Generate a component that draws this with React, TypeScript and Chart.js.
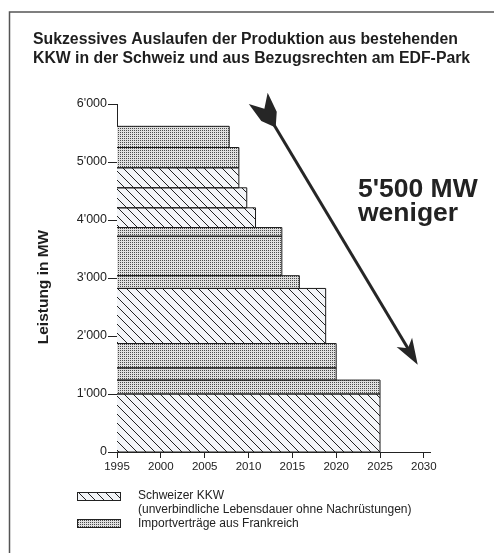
import React, { useEffect, useRef } from "react";
import { Chart, registerables } from "chart.js";

Chart.register(...registerables);

const FONT = '"Liberation Sans", Arial, Helvetica, sans-serif';

// ---- data ----
const startYear = 1995;
const barType = ["KKW", "Import", "Import", "Import", "KKW", "Import", "Import", "Import", "KKW", "KKW", "KKW", "Import", "Import"];
const barLow = [0, 1000, 1240, 1450, 1870, 2820, 3040, 3720, 3870, 4210, 4555, 4900, 5250];
const barHigh = [1000, 1240, 1450, 1870, 2820, 3040, 3720, 3870, 4210, 4555, 4900, 5250, 5615];
const barEnd = [2025, 2025, 2020, 2020, 2018.8, 2015.8, 2013.8, 2013.8, 2010.8, 2009.8, 2008.9, 2008.9, 2007.8];
const xTicks = [1995, 2000, 2005, 2010, 2015, 2020, 2025, 2030];
const yTicks = [0, 1000, 2000, 3000, 4000, 5000, 6000];
const titleLines = [
  "Sukzessives Auslaufen der Produktion aus bestehenden",
  "KKW in der Schweiz und aus Bezugsrechten am EDF-Park",
];
const yLabel = "Leistung in MW";
const calloutLines = ["5'500 MW", "weniger"];
const arrowFrom = [2013.1, 5594];
const arrowTo = [2029.3, 1506];
const legendLabels = [
  ["Schweizer KKW", "(unverbindliche Lebensdauer ohne Nachrüstungen)"],
  ["Importverträge aus Frankreich"],
];

const fmt = (v: number) => String(v).replace(/\B(?=(\d{3})+(?!\d))/g, "'");

function makeHatch(): CanvasPattern {
  const s = 9;
  const c = document.createElement("canvas");
  c.width = s;
  c.height = s;
  const g = c.getContext("2d")!;
  g.fillStyle = "#f3f5f8";
  g.fillRect(0, 0, s, s);
  g.strokeStyle = "#222";
  g.lineWidth = 1;
  g.beginPath();
  for (const k of [-s, 0, s]) {
    g.moveTo(k, 0);
    g.lineTo(k + s, s);
  }
  g.stroke();
  return g.createPattern(c, "repeat")!;
}

function makeDots(): CanvasPattern {
  const c = document.createElement("canvas");
  c.width = 2;
  c.height = 2;
  const g = c.getContext("2d")!;
  g.fillStyle = "#e0e0e0";
  g.fillRect(0, 0, 2, 2);
  g.fillStyle = "#4a4a4a";
  g.fillRect(0, 0, 1, 1);
  return g.createPattern(c, "repeat")!;
}

export default function App() {
  const ref = useRef<HTMLCanvasElement | null>(null);

  useEffect(() => {
    if (!ref.current) return;
    const hatch = makeHatch();
    const dots = makeDots();

    const datasets: any[] = [];
    barLow.forEach((low, i) => {
      const high = barHigh[i];
      const end = barEnd[i];
      datasets.push({
        data: [
          { x: startYear, y: high },
          { x: end, y: high },
        ],
        fill: { value: low },
        backgroundColor: barType[i] === "KKW" ? hatch : dots,
        borderColor: "rgba(0,0,0,0)",
        borderWidth: 0,
        pointRadius: 0,
        tension: 0,
        order: 2,
      });
      datasets.push({
        data: [
          { x: startYear, y: low },
          { x: end, y: low },
          { x: end, y: high },
          { x: startYear, y: high },
        ],
        fill: false,
        borderColor: "#1c1c1c",
        borderWidth: 1,
        pointRadius: 0,
        tension: 0,
        order: 1,
      });
    });

    const deco = {
      id: "deco",
      afterDraw(chart: any) {
        const ctx: CanvasRenderingContext2D = chart.ctx;
        const xs = chart.scales.x;
        const ys = chart.scales.y;
        ctx.save();
        // frame
        ctx.strokeStyle = "#555";
        ctx.lineWidth = 1.5;
        ctx.beginPath();
        ctx.moveTo(9.5, 553);
        ctx.lineTo(9.5, 12);
        ctx.lineTo(494, 12);
        ctx.stroke();

        // title
        ctx.fillStyle = "#1e1e1e";
        ctx.textAlign = "left";
        ctx.textBaseline = "alphabetic";
        ctx.font = `bold 15.8px ${FONT}`;
        ctx.fillText(titleLines[0], 33, 43.5);
        ctx.fillText(titleLines[1], 33, 62.5);

        // y label
        ctx.save();
        ctx.translate(44, 287);
        ctx.rotate(-Math.PI / 2);
        ctx.textAlign = "center";
        ctx.textBaseline = "middle";
        ctx.font = `bold 15.5px ${FONT}`;
        ctx.fillText(yLabel, 0, 0);
        ctx.restore();

        // callout
        ctx.font = `bold 26.5px ${FONT}`;
        ctx.fillStyle = "#222";
        ctx.fillText(calloutLines[0], 358, 197);
        ctx.fillText(calloutLines[1], 358, 221);

        // arrow
        const fx = xs.getPixelForValue(arrowFrom[0]);
        const fy = ys.getPixelForValue(arrowFrom[1]);
        const tx = xs.getPixelForValue(arrowTo[0]);
        const ty = ys.getPixelForValue(arrowTo[1]);
        const L = Math.hypot(tx - fx, ty - fy);
        const ux = (tx - fx) / L;
        const uy = (ty - fy) / L;
        const nx = -uy;
        const ny = ux;
        ctx.strokeStyle = "#262626";
        ctx.fillStyle = "#262626";
        ctx.lineWidth = 3;
        ctx.beginPath();
        ctx.moveTo(fx - ux * 6, fy - uy * 6);
        ctx.lineTo(tx - ux * 16, ty - uy * 16);
        ctx.stroke();
        ctx.beginPath();
        ctx.moveTo(tx, ty);
        ctx.lineTo(tx - ux * 26 + nx * 9, ty - uy * 26 + ny * 9);
        ctx.lineTo(tx - ux * 19, ty - uy * 19);
        ctx.lineTo(tx - ux * 26 - nx * 9, ty - uy * 26 - ny * 9);
        ctx.closePath();
        ctx.fill();
        // fletching
        ctx.beginPath();
        ctx.moveTo(fx, fy);
        ctx.lineTo(fx - ux * 13 + nx * 9, fy - uy * 13 + ny * 9);
        ctx.lineTo(fx - ux * 34 + nx * 11, fy - uy * 34 + ny * 11);
        ctx.lineTo(fx - ux * 22, fy - uy * 22);
        ctx.lineTo(fx - ux * 34 - nx * 11, fy - uy * 34 - ny * 11);
        ctx.lineTo(fx - ux * 13 - nx * 9, fy - uy * 13 - ny * 9);
        ctx.closePath();
        ctx.fill();

        // legend
        ctx.lineWidth = 1;
        ctx.strokeStyle = "#222";
        ctx.fillStyle = hatch;
        ctx.fillRect(77, 492, 43, 8);
        ctx.strokeRect(77.5, 492.5, 43, 8);
        ctx.fillStyle = dots;
        ctx.fillRect(77, 519, 43, 8);
        ctx.strokeRect(77.5, 519.5, 43, 8);
        ctx.fillStyle = "#222";
        ctx.font = `12px ${FONT}`;
        ctx.textAlign = "left";
        ctx.textBaseline = "alphabetic";
        ctx.fillText(legendLabels[0][0], 138, 499);
        ctx.fillText(legendLabels[0][1], 138, 513);
        ctx.fillText(legendLabels[1][0], 138, 527);
        ctx.restore();
      },
    };

    const chart = new Chart(ref.current, {
      type: "line",
      data: { datasets },
      options: {
        animation: false,
        responsive: false,
        devicePixelRatio: 1,
        layout: { padding: { top: 104, left: 10, right: 64, bottom: 71 } },
        plugins: {
          legend: { display: false },
          tooltip: { enabled: false },
          title: { display: false },
        },
        events: [],
        scales: {
          x: {
            type: "linear",
            min: 1995,
            max: 2030.7,
            afterBuildTicks: (s: any) => {
              s.ticks = xTicks.map((v) => ({ value: v }));
            },
            afterFit: (s: any) => {
              s.height = 30;
            },
            ticks: {
              color: "#222",
              font: { size: 11.5, family: FONT },
              padding: 2,
              maxRotation: 0,
              autoSkip: false,
              callback: (v: any) => String(v),
            },
            grid: { drawOnChartArea: false, drawTicks: true, tickLength: 6, color: "#222" },
            border: { color: "#222", width: 1 },
          },
          y: {
            type: "linear",
            min: 0,
            max: 6000,
            afterBuildTicks: (s: any) => {
              s.ticks = yTicks.map((v) => ({ value: v }));
            },
            afterFit: (s: any) => {
              s.width = 107;
            },
            ticks: {
              color: "#222",
              font: { size: 12.5, family: FONT },
              padding: 1,
              callback: (v: any) => fmt(Number(v)),
            },
            grid: { drawOnChartArea: false, drawTicks: true, tickLength: 9, color: "#222" },
            border: { color: "#222", width: 1 },
          },
        },
      } as any,
      plugins: [deco],
    });
    return () => chart.destroy();
  }, []);

  return (
    <div style={{ position: "fixed", left: 0, top: 0, width: 494, height: 553, background: "#fff" }}>
      <canvas ref={ref} width={494} height={553} style={{ display: "block" }} />
    </div>
  );
}
